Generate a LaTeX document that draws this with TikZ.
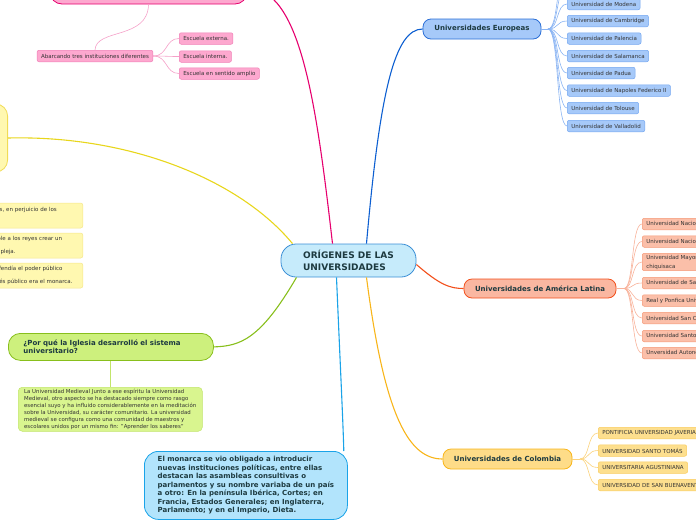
\documentclass[tikz,border=0pt]{standalone}
\usepackage{fontspec}
\setmainfont{DejaVu Sans}
\definecolor{rootfill}{HTML}{C6EBFB}
\definecolor{rootline}{HTML}{3B8FD6}
\definecolor{titletext}{HTML}{1D3A40}
\definecolor{leaftext}{HTML}{333333}
\definecolor{eufill}{HTML}{A6C9F9}
\definecolor{euline}{HTML}{2B6FD6}
\definecolor{eulink}{HTML}{0D5FD1}
\definecolor{euleafline}{HTML}{74A6F0}
\definecolor{euleaflink}{HTML}{8AB4F3}
\definecolor{lafill}{HTML}{FAB7A1}
\definecolor{laline}{HTML}{F2501C}
\definecolor{laleaffill}{HTML}{FBBFA9}
\definecolor{laleafline}{HTML}{F59876}
\definecolor{laleaflink}{HTML}{F8B29A}
\definecolor{cofill}{HTML}{FEDC88}
\definecolor{coline}{HTML}{F8B51A}
\definecolor{coleaffill}{HTML}{FDDF8E}
\definecolor{coleafline}{HTML}{F9CC5E}
\definecolor{coleaflink}{HTML}{FBD27A}
\definecolor{grfill}{HTML}{CDF07D}
\definecolor{grline}{HTML}{88BF1C}
\definecolor{grleaffill}{HTML}{D9F58F}
\definecolor{grleafline}{HTML}{C2E56A}
\definecolor{blfill}{HTML}{B2E4FC}
\definecolor{blline}{HTML}{1AA3E8}
\definecolor{pkfill}{HTML}{FDA8CF}
\definecolor{pkline}{HTML}{E6006E}
\definecolor{pkleafline}{HTML}{F07FB6}
\definecolor{pkleaflink}{HTML}{F5A0C8}
\definecolor{ywfill}{HTML}{FFF8B0}
\definecolor{ywline}{HTML}{F1DC55}
\definecolor{ywlink}{HTML}{E8D61C}
\definecolor{ywleafline}{HTML}{F4E68A}
\newcommand{\leaffont}{\fontsize{5.5}{7}\selectfont}
\newcommand{\titlefont}{\bfseries\fontsize{7}{8.5}\selectfont}
\begin{document}
\begin{tikzpicture}[x=1pt,y=-1pt,
    topic/.style={rounded corners=8pt,line width=0.8pt,font=\titlefont,text=titletext},
    leaf/.style={rounded corners=2pt,line width=0.5pt,anchor=west,minimum height=11.5pt,
        inner xsep=4pt,inner ysep=1.5pt,font=\leaffont,text=leaftext,align=left},
    yleaf/.style={leaf,draw=ywleafline,fill=ywfill,anchor=east,text width=#1,minimum height=25pt,
        font=\fontsize{5.5}{13}\selectfont},
    yleaf/.default=193pt,
    link/.style={line width=1.1pt},
    leaflink/.style={line width=0.6pt}]
    \clip (0,0) rectangle (696,520);
    \useasboundingbox (0,0) rectangle (696,520);
    % central topic
    \node[topic,draw=rootline,fill=rootfill,rounded corners=15pt,minimum width=135pt,
        minimum height=33pt,align=left,font=\bfseries\fontsize{9}{11.5}\selectfont]
        (root) at (348.5,260.5) {ORÍGENES DE LAS\\UNIVERSIDADES};
    % main branches
    \node[topic,draw=euline,fill=eufill,minimum width=118pt,minimum height=20pt] (eu) at (482,29) {Universidades Europeas};
    \node[topic,draw=laline,fill=lafill,minimum width=152pt,minimum height=19pt] (la) at (540,288.5) {Universidades de América Latina};
    \node[topic,draw=coline,fill=cofill,minimum width=129pt,minimum height=20pt] (co) at (507.5,459) {Universidades de Colombia};
    \node[topic,draw=grline,fill=grfill,rounded corners=12pt,anchor=north west,text width=175pt,
        inner xsep=15pt,minimum height=27pt,align=left] (iglesia) at (8,333)
        {¿Por qué la Iglesia desarrolló el sistema\\universitario?};
    \node[topic,draw=blline,fill=blfill,rounded corners=14pt,anchor=north west,minimum width=203pt,
        minimum height=68pt,align=left] (monarca) at (144,451)
        {El monarca se vio obligado a introducir\\nuevas instituciones políticas, entre ellas\\destacan las asambleas consultivas o\\parlamentos y su nombre variaba de un país\\a otro: En la península Ibérica, Cortes; en\\Francia, Estados Generales; en Inglaterra,\\Parlamento; y en el Imperio, Dieta.};
    \node[topic,draw=pkline,fill=pkfill,rounded corners=12pt,minimum width=197pt,minimum height=32pt] (pk) at (148.5,-12) {};
    \node[topic,draw=ywline,fill=ywfill,rounded corners=12pt,anchor=east,minimum width=150pt,minimum height=68pt] (yw) at (8,138) {};
    % european universities
    \coordinate (eufan) at (548,29);
    \foreach \name/\y in {Modena/4,Cambridge/21,Palencia/38.5,Salamanca/56,Padua/73,Napoles Federico II/90.5,Tolouse/108,Valladolid/126}
        \node[leaf,draw=euleafline,fill=eufill] (eu-\y) at (567,\y) {Universidad de \name};
    \coordinate (eu-up1) at (567,-14);
    \coordinate (eu-up2) at (567,-31);
    \draw[leaflink,euleaflink] (eu.east) -- (eufan);
    \foreach \y in {-31,-14,4,21,38.5,56,73,90.5,108,126}
        \draw[leaflink,euleaflink] (eufan) .. controls (559,29) and (556,\y) .. (567,\y);
    % latin america
    \coordinate (lafan) at (624,288.5);
    \node[leaf,draw=laleafline,fill=laleaffill] (la1) at (642,224) {Universidad Nacional Mayor de San Marcos};
    \node[leaf,draw=laleafline,fill=laleaffill] (la2) at (642,241.5) {Universidad Nacional Autónoma de México};
    \node[leaf,draw=laleafline,fill=laleaffill,font=\fontsize{5.5}{9}\selectfont] (la3) at (642,262) {Universidad Mayor Real y Pontificia de San Francisco Xavier de\\chiquisaca};
    \node[leaf,draw=laleafline,fill=laleaffill] (la4) at (642,283) {Universidad de San Gregorio Magno};
    \node[leaf,draw=laleafline,fill=laleaffill] (la5) at (642,300.5) {Real y Ponfica Universidad de México};
    \node[leaf,draw=laleafline,fill=laleaffill] (la6) at (642,318) {Universidad San Carlos de Guatemala};
    \node[leaf,draw=laleafline,fill=laleaffill] (la7) at (642,336) {Universidad Santo Tomás de Aquino};
    \node[leaf,draw=laleafline,fill=laleaffill] (la8) at (642,353) {Unversidad Autonoma de Santo Domingo};
    \draw[leaflink,laleaflink] (la.east) -- (lafan);
    \foreach \i in {1,...,8}
        \draw[leaflink,laleaflink] (lafan) .. controls (634,288.5) and (631,0|-la\i.west) .. (la\i.west);
    % colombia
    \coordinate (cofan) at (580,459);
    \node[leaf,draw=coleafline,fill=coleaffill] (co1) at (598,433) {PONTIFICIA UNIVERSIDAD JAVERIANA};
    \node[leaf,draw=coleafline,fill=coleaffill] (co2) at (598,450.5) {UNIVERSIDAD SANTO TOMÁS};
    \node[leaf,draw=coleafline,fill=coleaffill] (co3) at (598,467.5) {UNIVERSITARIA AGUSTINIANA};
    \node[leaf,draw=coleafline,fill=coleaffill] (co4) at (598,485) {UNIVERSIDAD DE SAN BUENAVENTURA};
    \draw[leaflink,coleaflink] (co.east) -- (cofan);
    \foreach \i in {1,...,4}
        \draw[leaflink,coleaflink] (cofan) .. controls (590,459) and (587,0|-co\i.west) .. (co\i.west);
    % pink branch
    \node[leaf,draw=pkleafline,fill=pkfill,anchor=center] (abarcando) at (95,56) {Abarcando tres instituciones diferentes};
    \node[leaf,draw=pkleafline,fill=pkfill] (ext) at (179,38.5) {Escuela externa.};
    \node[leaf,draw=pkleafline,fill=pkfill] (int) at (179,56.5) {Escuela interna.};
    \node[leaf,draw=pkleafline,fill=pkfill] (amp) at (179,73.5) {Escuela en sentido amplio};
    \draw[leaflink,pkleaflink] (pk.south) .. controls (148,40) and (96,28) .. (abarcando.north);
    \foreach \n in {ext,int,amp}
        \draw[leaflink,pkleaflink] (abarcando.east) .. controls (168,56) and (165,0|-\n.west) .. (\n.west);
    % yellow branch
    \node[yleaf=201pt] (yw1) at (83,215.5)
        {El monarca concentró el poder en sus manos, en perjuicio de los\\señores feudales.};
    \node[yleaf] (yw2) at (83,245.5)
        {El gran crecimiento económico hizo posible a los reyes crear un\\una administración y una burocracia compleja.};
    \node[yleaf] (yw3) at (83,275.5)
        {Apareció un pensamiento político que defendía el poder público\\y que el representante supremo del interés público era el monarca.};
    % green branch
    \node[leaf,draw=grleafline,fill=grleaffill,anchor=north west,minimum width=184pt,inner xsep=4pt,
        font=\fontsize{5.4}{7}\selectfont,rounded corners=4pt,minimum height=44pt] (medieval) at (18,387)
        {La Universidad Medieval Junto a ese espíritu la Universidad\\Medieval, otro aspecto se ha destacado siempre como rasgo\\esencial suyo y ha influido considerablemente en la meditación\\sobre la Universidad, su carácter comunitario. La universidad\\medieval se configura como una comunidad de maestros y\\escolares unidos por un mismo fin: "Aprender los saberes"};
    \draw[leaflink,grleafline] (iglesia.south -| medieval.north) -- (medieval.north);
    % links from the centre
    \draw[link,pkline] ([xshift=-16pt]root.north) .. controls (316,100) and (300,-12) .. (pk.east);
    \draw[link,eulink] ([xshift=18pt]root.north) .. controls (380,90) and (395,29) .. (eu.west);
    \draw[link,ywlink] ([xshift=-56pt]root.north) .. controls (240,180) and (130,135) .. (yw.east);
    \draw[link,grline] ([xshift=-52pt]root.south) .. controls (260,340) and (240,346) .. (iglesia.east);
    \draw[link,blline] ([xshift=-12pt]root.south) .. controls (340,360) and (343,420) .. ([xshift=-4pt]monarca.north east);
    \draw[link,coline] ([xshift=18pt]root.south) .. controls (385,420) and (410,459) .. (co.west);
    \draw[link,laline] ([yshift=-4pt]root.east) .. controls (440,285) and (450,288.5) .. (la.west);
\end{tikzpicture}
\end{document}
